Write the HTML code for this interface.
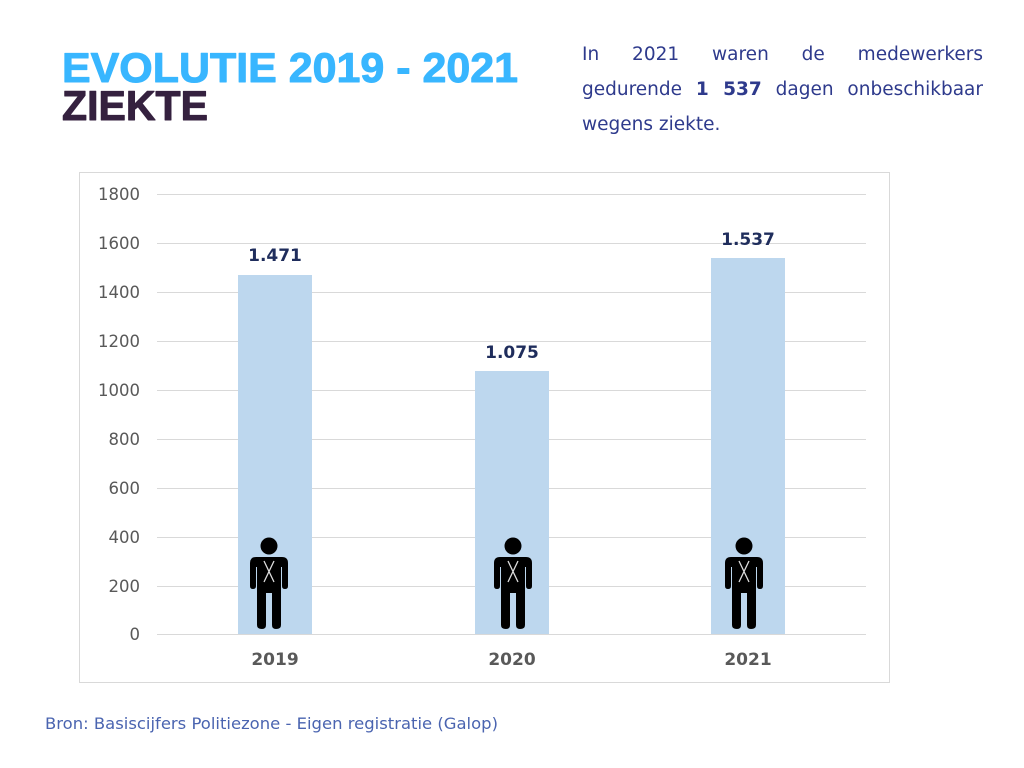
<!DOCTYPE html>
<html><head><meta charset="utf-8"><style>html,body{margin:0;padding:0;background:#fff}
.l{position:absolute;left:582px;width:401px;font-family:"DejaVu Sans",sans-serif;font-size:18.5px;color:#2e3a8c;text-align:justify;text-align-last:justify;white-space:nowrap;line-height:22px}
</style></head><body>
<svg width="1024" height="768" viewBox="0 0 1024 768" xmlns="http://www.w3.org/2000/svg" font-family="Liberation Sans, sans-serif" style="position:absolute;left:0;top:0">
<defs>
<g id="p">
<circle cx="0" cy="-82" r="8.5" fill="#000"/>
<path d="M-13,-71 H13 Q19,-71 19,-65 V-42 Q19,-39 16,-39 Q13,-39 13,-42 V-61 H12 V-3 Q12,1 7,1 Q3,1 3,-3 V-35 H-3 V-3 Q-3,1 -7,1 Q-12,1 -12,-3 V-61 H-13 V-42 Q-13,-39 -16,-39 Q-19,-39 -19,-42 V-65 Q-19,-71 -13,-71 Z" fill="#000"/>
<path d="M-5,-67 L5,-46 M5,-67 L-5,-46" stroke="#ddd" stroke-width="1.3"/>
</g>
</defs>
<g stroke-linejoin="round">
<text x="62" y="82" font-size="42" font-weight="900" fill="#38b6ff" stroke="#38b6ff" stroke-width="1" textLength="456" lengthAdjust="spacingAndGlyphs">EVOLUTIE 2019 - 2021</text>
<text x="62" y="120" font-size="42" font-weight="900" fill="#35213f" stroke="#35213f" stroke-width="1" textLength="146" lengthAdjust="spacingAndGlyphs">ZIEKTE</text>
</g>
<rect x="79.5" y="172.5" width="810" height="510" fill="#fff" stroke="#d9d9d9"/>
<g stroke="#d9d9d9" stroke-width="1">
<line x1="157" x2="866" y1="194.5" y2="194.5"/><line x1="157" x2="866" y1="243.5" y2="243.5"/>
<line x1="157" x2="866" y1="292.5" y2="292.5"/><line x1="157" x2="866" y1="341.5" y2="341.5"/>
<line x1="157" x2="866" y1="390.5" y2="390.5"/><line x1="157" x2="866" y1="439.5" y2="439.5"/>
<line x1="157" x2="866" y1="488.5" y2="488.5"/><line x1="157" x2="866" y1="537.5" y2="537.5"/>
<line x1="157" x2="866" y1="586.5" y2="586.5"/><line x1="157" x2="866" y1="634.5" y2="634.5"/>
</g>
<g font-family="DejaVu Sans, sans-serif" font-size="16.5" fill="#595959" text-anchor="end">
<text x="140" y="200">1800</text><text x="140" y="249">1600</text><text x="140" y="298">1400</text>
<text x="140" y="347">1200</text><text x="140" y="396">1000</text><text x="140" y="445">800</text>
<text x="140" y="494">600</text><text x="140" y="543">400</text><text x="140" y="592">200</text>
<text x="140" y="640">0</text>
</g>
<rect x="238" y="275" width="74" height="359" fill="#bdd7ee"/>
<rect x="475" y="371" width="74" height="263" fill="#bdd7ee"/>
<rect x="711" y="258" width="74" height="376" fill="#bdd7ee"/>
<g font-family="DejaVu Sans, sans-serif" font-size="17" font-weight="bold" fill="#1f2d5c" text-anchor="middle">
<text x="275" y="261">1.471</text><text x="512" y="358">1.075</text><text x="748" y="245">1.537</text>
</g>
<use href="#p" x="269" y="628"/><use href="#p" x="513" y="628"/><use href="#p" x="744" y="628"/>
<g font-family="DejaVu Sans, sans-serif" font-size="17" font-weight="bold" fill="#595959" text-anchor="middle">
<text x="275" y="665">2019</text><text x="512" y="665">2020</text><text x="748" y="665">2021</text>
</g>
<text x="45" y="729" font-family="DejaVu Sans, sans-serif" font-size="16" fill="#4a64b0" textLength="453" lengthAdjust="spacingAndGlyphs">Bron: Basiscijfers Politiezone - Eigen registratie (Galop)</text>
</svg>
<div class="l" style="top:44px">In 2021 waren de medewerkers</div>
<div class="l" style="top:79px">gedurende <b>1 537</b> dagen onbeschikbaar</div>
<div class="l" style="top:114px;text-align-last:left">wegens ziekte.</div>
</body></html>
